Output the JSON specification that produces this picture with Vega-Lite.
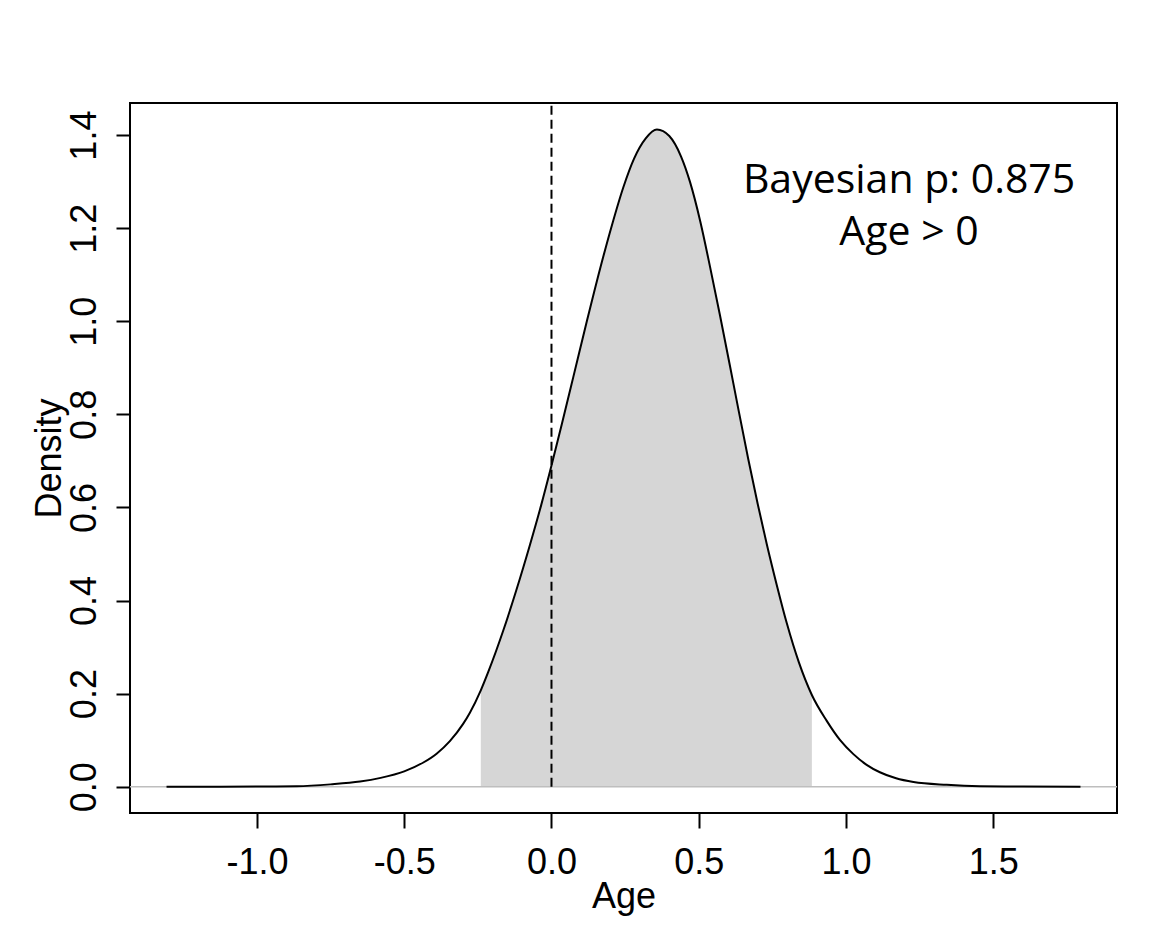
{
  "$schema": "https://vega.github.io/schema/vega-lite/v6.json",
  "width": 987,
  "height": 710,
  "autosize": {"type": "none"},
  "padding": {"left": 130, "top": 103, "right": 41, "bottom": 115},
  "background": "white",
  "config": {
    "view": {"stroke": "black", "strokeWidth": 2, "fill": "white"},
    "axis": {
      "grid": false,
      "domain": false,
      "tickColor": "black",
      "tickWidth": 2,
      "labelFont": "Liberation Sans",
      "labelFontSize": 36,
      "labelColor": "black",
      "titleFont": "Liberation Sans",
      "titleFontSize": 36,
      "titleFontWeight": "normal",
      "titleColor": "black"
    }
  },
  "datasets": {
    "curve": [
      {"x": -1.307, "d": 0},
      {"x": -1.15, "d": 0.0001},
      {"x": -1.0, "d": 0.0003},
      {"x": -0.865, "d": 0.001},
      {"x": -0.75, "d": 0.005},
      {"x": -0.65, "d": 0.011},
      {"x": -0.58, "d": 0.019},
      {"x": -0.5, "d": 0.033},
      {"x": -0.435, "d": 0.052},
      {"x": -0.39, "d": 0.071},
      {"x": -0.345, "d": 0.098},
      {"x": -0.3, "d": 0.135},
      {"x": -0.277, "d": 0.159},
      {"x": -0.24, "d": 0.207},
      {"x": -0.215, "d": 0.246},
      {"x": -0.164, "d": 0.335},
      {"x": -0.12, "d": 0.421},
      {"x": -0.073, "d": 0.52},
      {"x": -0.035, "d": 0.605},
      {"x": 0.0, "d": 0.69},
      {"x": 0.035, "d": 0.779},
      {"x": 0.074, "d": 0.88},
      {"x": 0.12, "d": 1.0},
      {"x": 0.165, "d": 1.113},
      {"x": 0.205, "d": 1.206},
      {"x": 0.244, "d": 1.288},
      {"x": 0.28, "d": 1.349},
      {"x": 0.32, "d": 1.393},
      {"x": 0.358, "d": 1.412},
      {"x": 0.4, "d": 1.398},
      {"x": 0.44, "d": 1.354},
      {"x": 0.47, "d": 1.3},
      {"x": 0.505, "d": 1.215},
      {"x": 0.538, "d": 1.118},
      {"x": 0.572, "d": 1.013},
      {"x": 0.606, "d": 0.904},
      {"x": 0.629, "d": 0.829},
      {"x": 0.668, "d": 0.704},
      {"x": 0.7, "d": 0.608},
      {"x": 0.731, "d": 0.521},
      {"x": 0.765, "d": 0.433},
      {"x": 0.799, "d": 0.351},
      {"x": 0.84, "d": 0.267},
      {"x": 0.884, "d": 0.197},
      {"x": 0.934, "d": 0.142},
      {"x": 0.98, "d": 0.1},
      {"x": 1.025, "d": 0.07},
      {"x": 1.07, "d": 0.047},
      {"x": 1.115, "d": 0.031},
      {"x": 1.17, "d": 0.018},
      {"x": 1.229, "d": 0.01},
      {"x": 1.342, "d": 0.004},
      {"x": 1.455, "d": 0.001},
      {"x": 1.6, "d": 0.0002},
      {"x": 1.796, "d": 0}
    ],
    "notes": [
      {"x": 1.214, "y": 1.2755, "label": "Bayesian p: 0.875"},
      {"x": 1.214, "y": 1.1645, "label": "Age > 0"}
    ],
    "one": [{"v": 0}]
  },
  "layer": [
    {
      "data": {"name": "curve"},
      "transform": [{"filter": "datum.x >= -0.24 && datum.x <= 0.884"}],
      "mark": {"type": "area", "color": "#d6d6d6", "interpolate": "monotone"},
      "encoding": {
        "x": {
          "field": "x", "type": "quantitative",
          "scale": {"domain": [-1.431, 1.92], "nice": false, "zero": false},
          "axis": {
            "values": [-1, -0.5, 0, 0.5, 1, 1.5],
            "labelExpr": "datum.value < 0 ? '-' + format(-datum.value, '.1f') : format(datum.value, '.1f')",
            "title": "Age", "tickSize": 15, "labelPadding": 17,
            "labelBaseline": "top", "titleBaseline": "alphabetic", "titleY": 94
          }
        },
        "y": {
          "field": "d", "type": "quantitative",
          "scale": {"domain": [-0.0565, 1.469], "nice": false, "zero": false},
          "axis": {
            "values": [0, 0.2, 0.4, 0.6, 0.8, 1.0, 1.2, 1.4], "format": ".1f",
            "title": "Density", "tickSize": 14, "labelPadding": 21,
            "labelAngle": 270, "labelAlign": "center", "labelBaseline": "alphabetic",
            "titleAngle": 270, "titleBaseline": "alphabetic", "titleX": -70
          }
        }
      }
    },
    {
      "data": {"name": "one"},
      "mark": {"type": "rule", "color": "#bebebe", "strokeWidth": 1.5},
      "encoding": {"y": {"datum": 0, "type": "quantitative"}}
    },
    {
      "data": {"name": "curve"},
      "mark": {"type": "line", "color": "black", "strokeWidth": 2, "interpolate": "monotone"},
      "encoding": {
        "x": {"field": "x", "type": "quantitative"},
        "y": {"field": "d", "type": "quantitative"}
      }
    },
    {
      "data": {"name": "one"},
      "mark": {"type": "rule", "color": "black", "strokeWidth": 2, "strokeDash": [9, 5]},
      "encoding": {
        "x": {"datum": 0, "type": "quantitative"},
        "y": {"datum": 0, "type": "quantitative"},
        "y2": {"datum": 1.469}
      }
    },
    {
      "data": {"name": "notes"},
      "mark": {"type": "text", "font": "Open Sans", "fontSize": 41, "color": "black", "align": "center", "baseline": "alphabetic"},
      "encoding": {
        "x": {"field": "x", "type": "quantitative"},
        "y": {"field": "y", "type": "quantitative"},
        "text": {"field": "label"}
      }
    }
  ]
}
